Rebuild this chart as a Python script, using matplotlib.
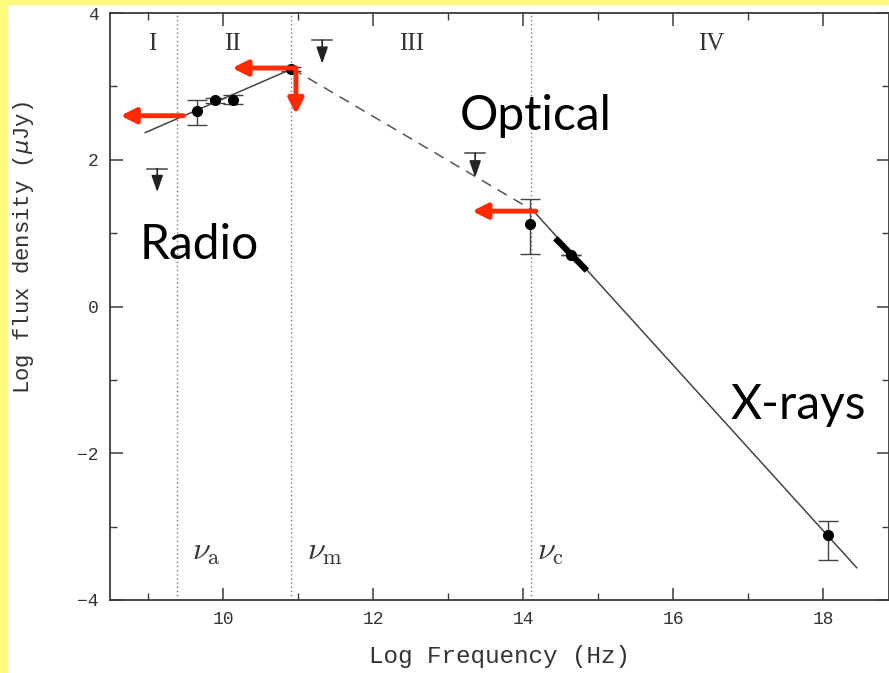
import matplotlib
matplotlib.use("Agg")
import matplotlib.pyplot as plt
import numpy as np

# spectral breaks (log Hz)
nu_a = 9.39
nu_m = 10.90
nu_c = 14.10

# broken power-law model: solid - dashed - solid
seg1_x = [8.96, 10.92]
seg1_y = [2.37, 3.24]
seg2_x = [10.92, 14.13]
seg2_y = [3.24, 1.31]
seg3_x = [14.13, 18.45]
seg3_y = [1.31, -3.56]

# thick optical segment
thick_x = [14.43, 14.85]
thick_y = [0.93, 0.49]

# detections
det_x = [9.65, 9.89, 10.13, 10.90, 14.09, 14.64, 18.07]
det_y = [2.66, 2.81, 2.82, 3.24, 1.13, 0.70, -3.11]
det_err_lo = [0.18, 0.03, 0.06, 0.03, 0.41, 0.00, 0.34]
det_err_hi = [0.15, 0.03, 0.06, 0.03, 0.33, 0.00, 0.18]

# upper limits (bar top, arrow tip)
ul_x = [9.12, 11.32, 13.36]
ul_top = [1.88, 3.63, 2.09]
ul_tip = [1.56, 3.31, 1.76]

regions = ["I", "II", "III", "IV"]
region_x = [9.05, 10.12, 12.52, 16.51]

# red annotation arrows (start, end)
red_arrows = [((9.47, 2.60), (8.63, 2.60)),
              ((10.97, 3.25), (10.12, 3.25)),
              ((10.97, 3.25), (10.97, 2.62)),
              ((14.17, 1.30), (13.32, 1.30))]

bands = ["Radio", "Optical", "X-rays"]
band_pos = [(8.89, 0.65), (13.16, 2.40), (16.76, -1.53)]

fig = plt.figure(figsize=(8.89, 6.73), dpi=100)
fig.patch.set_facecolor("white")
# yellow frame strips on left and top
fig.patches.append(plt.Rectangle((0, 0), 7 / 889, 1, transform=fig.transFigure,
                                 color="#fffa7d", zorder=0))
fig.patches.append(plt.Rectangle((0, 1 - 4 / 673), 1, 4 / 673, transform=fig.transFigure,
                                 color="#fffa7d", zorder=0))

ax = fig.add_axes([110 / 889, 73 / 673, 779 / 889, 587 / 673])
ax.set_xlim(8.49, 18.88)
ax.set_ylim(-4, 4)

dark = "#3a3a3a"
for s in ax.spines.values():
    s.set_color(dark)
    s.set_linewidth(1.3)

ax.set_xticks([10, 12, 14, 16, 18])
ax.set_xticks(np.arange(9, 19, 1), minor=True)
ax.set_yticks([-4, -2, 0, 2, 4])
ax.set_yticks(np.arange(-3, 4, 2), minor=True)
ax.tick_params(which="both", direction="in", top=True, right=True, color=dark,
               labelsize=13, labelcolor="#333333")
ax.tick_params(which="major", length=9, width=1.1, pad=8)
ax.tick_params(which="minor", length=5, width=1.0)
ax.set_yticklabels(["\u22124", "\u22122", "0", "2", "4"])
for lab in ax.get_xticklabels() + ax.get_yticklabels():
    lab.set_family("Liberation Mono")

ax.set_xlabel("Log Frequency (Hz)", family="Liberation Mono", fontsize=17.5,
              color="#333333", labelpad=12)
ax.set_ylabel("Log flux density ($\\mu$Jy)", family="Liberation Mono", fontsize=16,
              color="#333333")
ax.yaxis.set_label_coords(-0.095, 0.60)

# break frequencies
for nu in [nu_a, nu_m, nu_c]:
    ax.axvline(nu, color="#777777", linestyle=(0, (1, 2)), linewidth=1.0, zorder=1)

plt.rcParams["mathtext.fontset"] = "cm"
nu_labels = [r"$\nu_{\rm a}$", r"$\nu_{\rm m}$", r"$\nu_{\rm c}$"]
nu_lab_x = [9.58, 11.12, 14.18]
for t, xx in zip(nu_labels, nu_lab_x):
    ax.text(xx, -3.45, t, fontsize=23, color="#333333", ha="left", va="baseline")

for r, xx in zip(regions, region_x):
    ax.text(xx, 3.5, r, family="Liberation Serif", fontsize=18, color="#333333",
            ha="center", va="baseline")

# model lines
ax.plot(seg1_x, seg1_y, color="#444444", linewidth=1.1)
ax.plot(seg2_x, seg2_y, color="#555555", linewidth=1.1, linestyle=(0, (7, 5)))
ax.plot(seg3_x, seg3_y, color="#444444", linewidth=1.1)
ax.plot(thick_x, thick_y, color="black", linewidth=4.5, solid_capstyle="butt")

# detections
ax.errorbar(det_x, det_y, yerr=[det_err_lo, det_err_hi], fmt="o", color="black",
            ecolor="#444444", elinewidth=1.0, capsize=7, capthick=1.0, markersize=7,
            zorder=3)

# upper limits
for xx, top, tip in zip(ul_x, ul_top, ul_tip):
    ax.plot([xx - 0.13, xx + 0.13], [top, top], color="#444444", linewidth=1.1)
    ax.annotate("", xy=(xx, tip), xytext=(xx, top),
                arrowprops=dict(arrowstyle="-|>,head_length=1.0,head_width=0.35",
                                color="#222222", linewidth=1.2, shrinkA=0, shrinkB=0))

# red arrows
for (x0, y0), (x1, y1) in red_arrows:
    ax.annotate("", xy=(x1, y1), xytext=(x0, y0),
                arrowprops=dict(arrowstyle="-|>,head_length=0.9,head_width=0.45",
                                color="#ff2a00", linewidth=3.5, shrinkA=0, shrinkB=0),
                zorder=5)

for b, (xx, yy) in zip(bands, band_pos):
    ax.text(xx, yy, b, family="Lato", fontsize=34.5, color="black",
            ha="left", va="baseline", zorder=6)

fig.savefig("out.png", dpi=100)
